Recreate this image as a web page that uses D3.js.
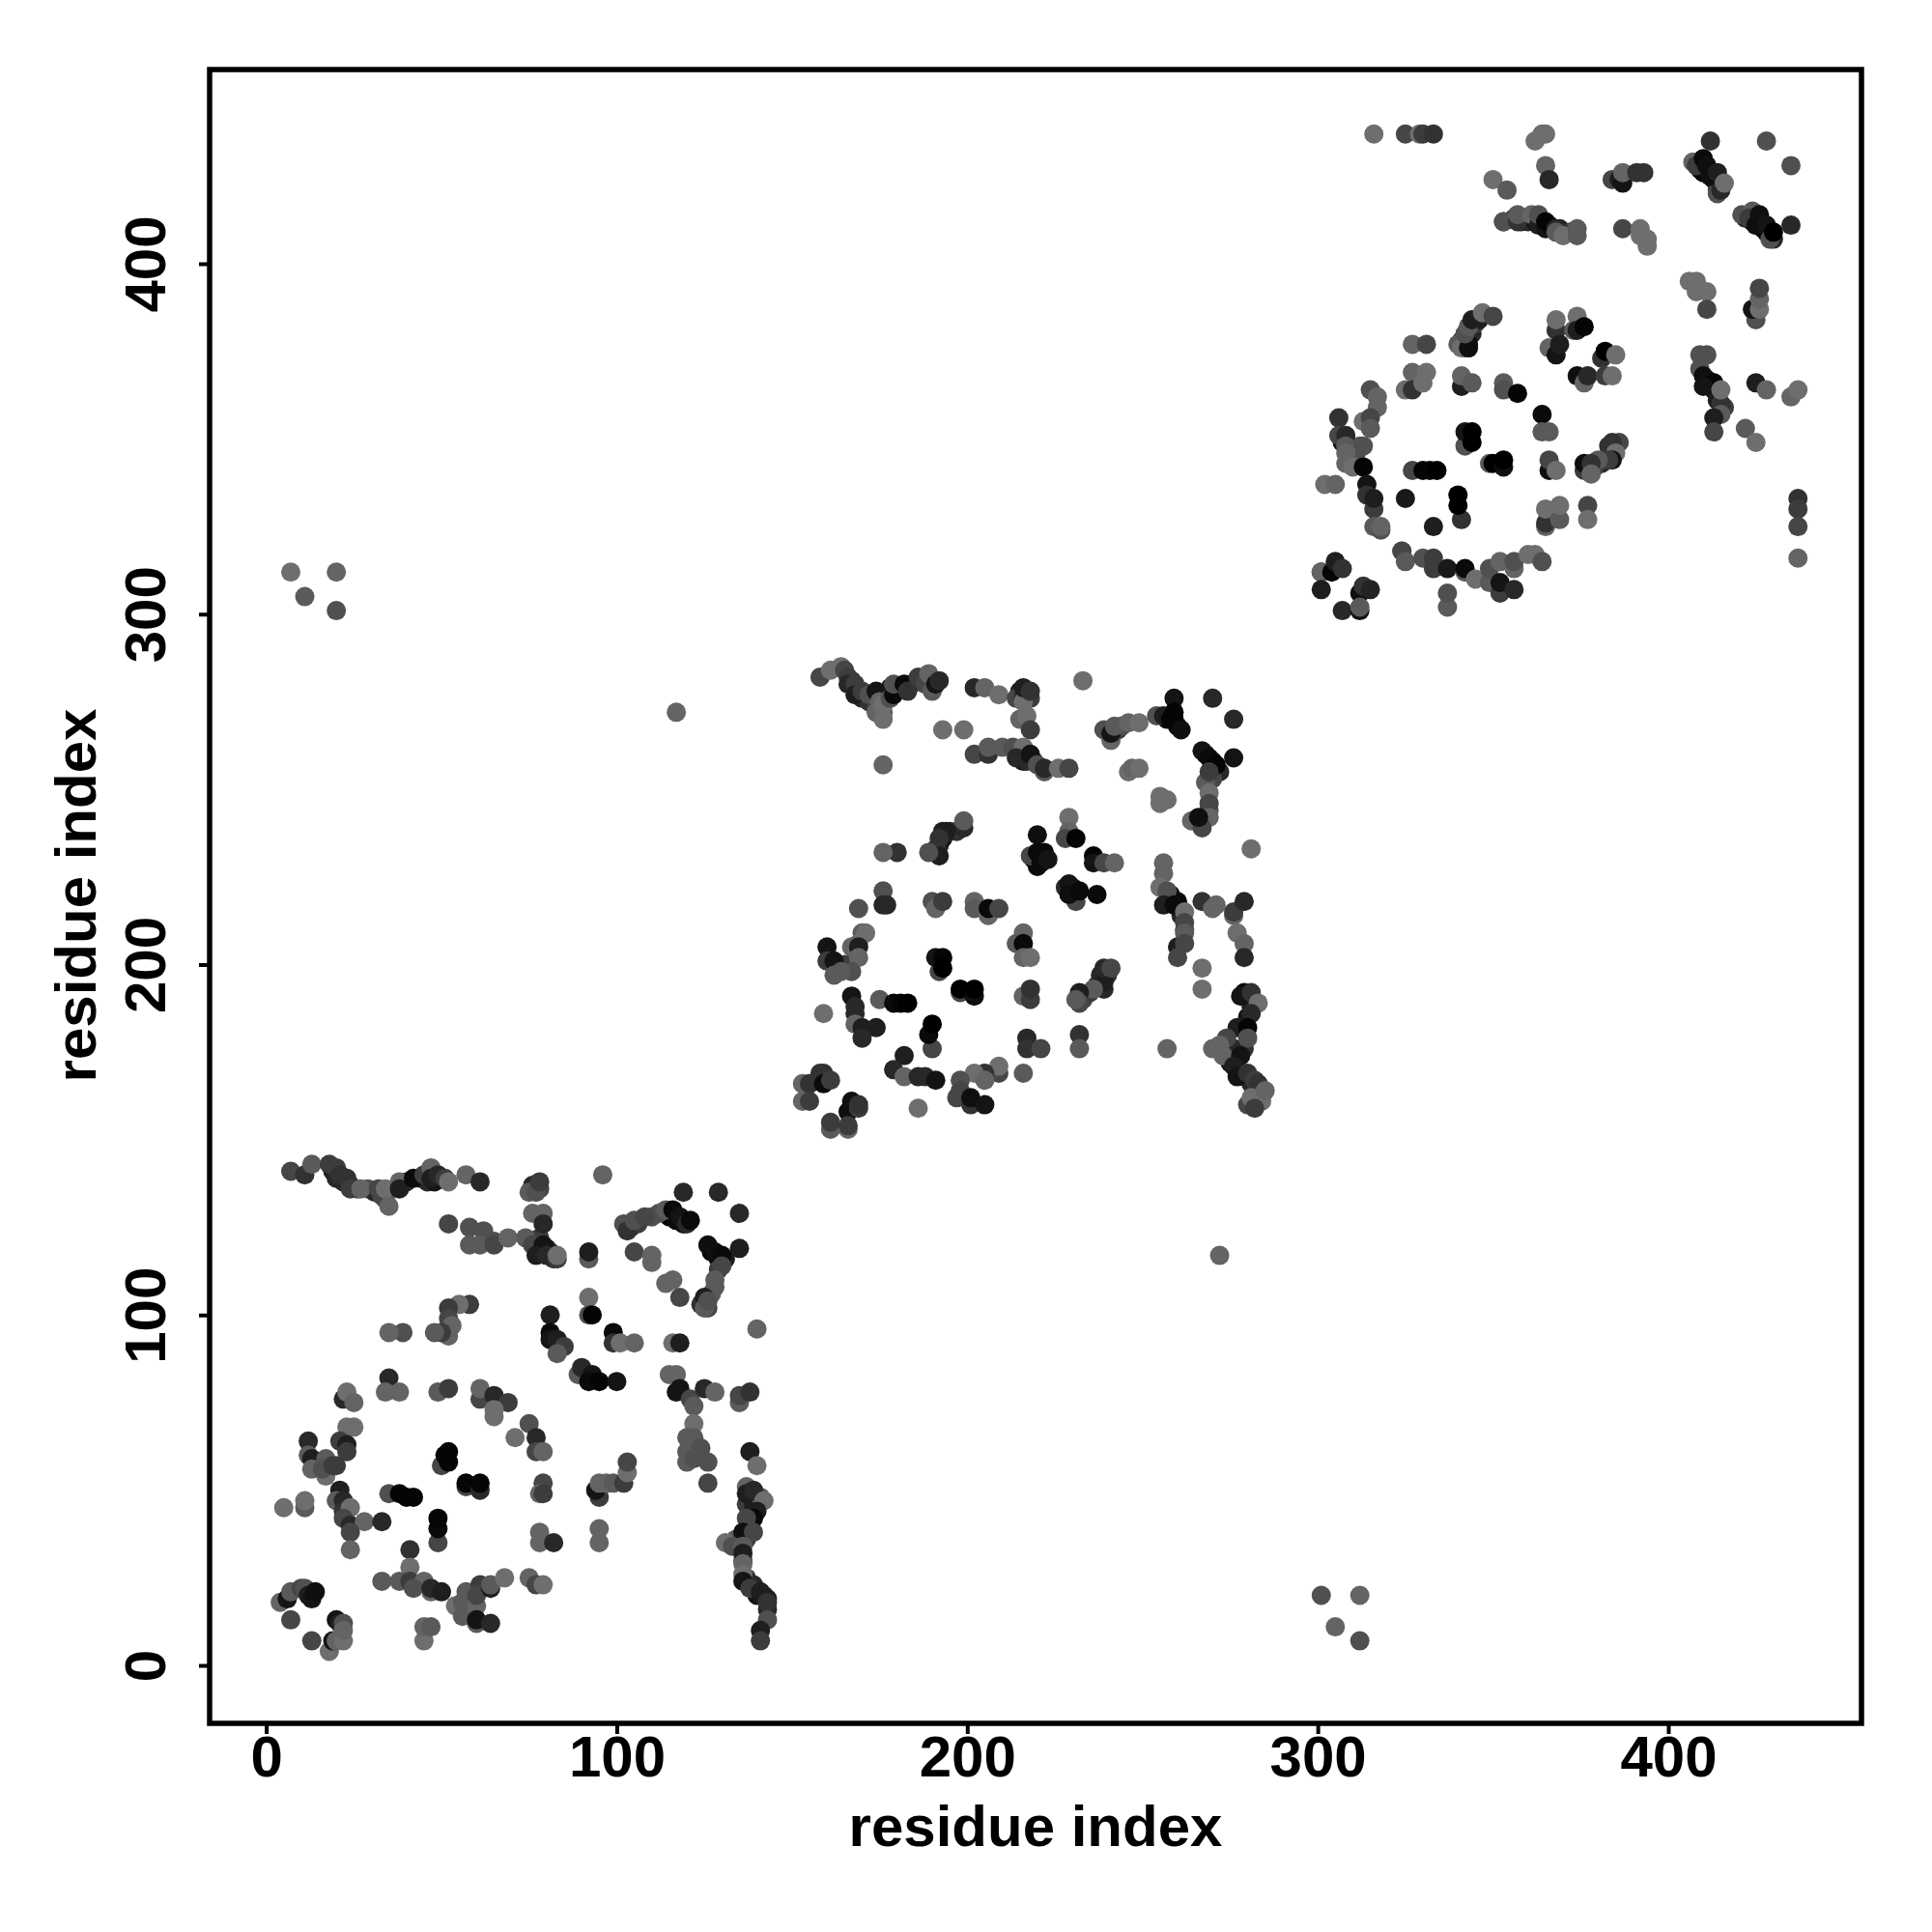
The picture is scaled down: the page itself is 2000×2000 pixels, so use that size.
<!DOCTYPE html>
<html><head><meta charset="utf-8">
<script src="https://cdn.jsdelivr.net/npm/d3@7"></script>
<style>html,body{margin:0;padding:0;background:#fff}svg{display:block}text{font-family:"Liberation Sans",Arial,sans-serif;font-weight:bold;fill:#000}</style>
</head><body><div id="c"></div>
<script>
// each row: residue i, residue j, grey level
const xTicks=[0,100,200,300,400];
const yTicks=[0,100,200,300,400];
const xTitle="residue index", yTitle="residue index";
const outliers=[[7,312,110],[20,312,100],[11,305,90],[20,301,80],[117,272,100],[272,117,100],[301,20,80],[312,20,100],[305,11,100],[312,7,80]];
const block1=[[137,46,60],[139,46,30],[141,48,90],[138,40,40],[137,36,60],[134,36,90],[136,30,70],[137,25,50],[139,23,40],[140,20,20],[142,20,40],[143,16,40],[19,141,30],[20,139,40],[22,138,40],[24,137,30],[26,136,60],[29,136,80],[31,135,40],[34,133,80],[40,138,40],[44,139,20],[46,138,40],[48,138,20],[78,136,70],[76,137,40],[115,128,5],[117,127,10],[119,126,15],[127,118,5],[129,116,10],[131,116,30],[129,113,60],[128,108,90],[126,102,70],[124,103,50],[80,119,20],[81,118,30],[82,116,50],[78,122,60],[104,125,50],[106,126,60],[110,128,80],[112,129,80],
[7,141,70],[11,140,50],[13,143,90],[18,143,60],[20,142,60],[21,140,50],[23,139,50],[24,136,60],[27,136,100],[32,136,70],[33,134,70],[34,136,110],[35,131,100],[38,138,100],[38,136,30],[42,139,10],[45,140,60],[47,142,100],[47,139,30],[49,140,40],[51,139,60],[52,138,110],[57,140,100],[61,138,40],
[75,135,90],[77,135,80],[78,138,60],[76,129,100],[79,129,100],[79,126,40],[52,126,70],[58,125,80],[62,124,80],[58,120,90],[61,120,90],[65,121,80],[65,120,70],[69,122,100],[74,122,90],[76,120,70],[79,120,20],[77,117,30],[80,117,40],[83,116,60],[83,117,110],[92,116,90],[92,118,30],[96,140,100],[119,135,40],[129,135,40],[135,129,40],
[102,126,80],[103,124,50],[105,127,80],[108,128,70],[114,130,90],[116,130,10],[118,128,20],[120,126,40],[121,127,10],[105,118,70],[110,117,100],[110,115,100],[116,110,100],[114,109,100],[118,105,70],[126,120,15],[128,118,15],[130,117,10],[135,119,30],[130,114,70],[128,110,90],[127,106,90],[125,105,30],[125,102,90],[126,104,80],[140,96,100],
[58,103,60],[55,103,110],[52,102,60],[52,99,70],[53,97,100],[52,94,100],[50,95,60],[48,95,90],[39,95,80],[35,95,100],[81,100,30],[81,95,10],[81,93,20],[83,93,30],[85,91,60],[83,89,90],[92,105,110],[92,100,80],[93,100,5],[99,95,10],[99,92,50],[101,92,110],[105,92,100],[116,92,110],[118,92,30],[89,83,90],[90,85,40],[93,83,20],[92,81,10],[95,81,5],[100,81,20],
[115,83,100],[117,83,100],[118,79,20],[117,78,20],[121,76,70],[122,74,90],[122,69,110],[120,65,90],[122,65,90],[120,61,90],[124,62,80],[120,58,90],[126,58,80],[122,59,80],[126,52,70],[125,79,40],[128,78,100],[135,75,90],[135,77,70],[138,78,50],[138,61,30],[140,57,110],
[137,51,100],[137,49,30],[139,50,40],[142,47,110],[140,44,30],[139,42,10],[137,42,70],[136,38,15],[139,38,70],[131,35,110],[133,34,80],[136,34,90],[136,32,30],[136,29,100],[136,26,110],[136,24,20],[138,22,60],[141,21,30],[143,19,30],[143,18,50],[143,13,80],[141,10,30],[141,7,60],
[22,76,40],[23,78,110],[25,75,100],[35,82,40],[34,78,100],[38,78,100],[49,78,90],[52,79,60],[61,76,70],[61,79,100],[65,77,40],[69,75,60],[65,73,110],[65,71,110],[75,69,80],[71,65,110],[77,65,40],[77,61,70],[79,61,100],[25,68,110],[23,68,110],[21,64,60],[23,63,30],[23,61,60],[12,64,40],[12,60,90],[13,59,30],[17,59,90],[13,56,100],[17,54,110],[16,56,80],[20,57,60],[19,57,60],
[50,57,70],[51,60,10],[52,61,5],[52,58,5],[35,49,80],[38,49,5],[40,48,5],[42,48,5],[57,51,70],[57,52,5],[61,50,40],[61,52,5],[79,52,70],[78,49,100],[79,49,60],[95,48,60],[94,50,20],[95,52,100],[97,52,100],[99,52,90],[102,52,60],[103,55,110],[103,58,70],[78,38,100],[78,35,100],[82,35,40],[95,39,100],[95,35,100],[5,45,110],[11,45,90],[11,47,110],
[21,50,30],[20,47,90],[22,47,40],[22,44,50],[24,45,110],[22,42,70],[24,40,40],[28,41,100],[24,38,70],[24,33,100],[33,41,40],[49,35,70],[49,39,10],[49,42,5],[41,33,50],[41,28,110],[33,24,90],[38,24,90],[41,24,60],[45,24,100],[42,22,80],[47,21,100],[47,22,40],[50,21,30],[45,7,110],[45,11,100],[47,11,90],
[54,17,110],[57,21,90],[56,18,90],[56,14,90],[60,17,100],[60,12,90],[60,13,20],[61,23,60],[60,20,70],[64,22,30],[64,23,90],[68,25,110],[64,12,40],[75,25,100],[77,23,70],[79,23,110],[4,18,100],[6,19,20],[7,21,90],[10,22,70],[11,22,80],[12,20,30],[13,19,20],[14,21,15],[7,13,70],[13,7,70],[18,4,110],[19,7,20],[20,7,100],[22,7,110],[20,13,20],[21,12,30],[22,12,80],[22,10,100]];
const block2=[[168,279,40],[167,281,30],[170,276,40],[172,275,50],[174,274,60],[176,272,90],[178,279,40],[181,279,20],[184,280,30],[187,281,60],[216,277,40],[218,276,60],[215,278,30],[215,260,30],[216,258,20],[219,258,40],[243,267,60],[244,268,80],[257,270,10],[259,270,20],[260,268,10],[268,260,10],[270,258,10],[272,255,40],[270,253,70],[267,240,30],[269,244,90],[268,252,90],[258,220,20],[258,218,30],[260,218,10],[261,214,40],[262,210,60],[279,192,10],[281,188,30],[280,185,20],[279,176,50],[276,176,40],[275,172,20],[277,170,20],[279,168,30],[281,166,40],[283,164,30],[282,163,60],[280,160,70],[192,234,40],[193,236,20],[195,238,40],[197,238,50],[191,233,60],[230,222,20],[230,220,5],[222,232,10],[219,230,5],[220,228,10],[166,200,30],[168,204,70],[165,200,60],[233,190,70],[235,192,60],[237,194,40],[238,197,40],[240,197,50],
[158,282,70],[161,284,110],[164,285,110],[165,284,70],[166,282,60],[166,280,40],[168,280,60],[168,277,30],[170,278,60],[172,277,80],[174,278,20],[174,272,100],[175,275,100],[176,274,110],[176,270,110],[178,276,80],[179,277,10],[179,280,80],[182,280,10],[183,278,50],[186,282,60],[188,280,70],[189,283,100],[190,278,90],[191,280,20],[192,281,40],
[202,279,40],[205,279,100],[209,277,110],[214,276,70],[216,276,40],[216,275,110],[216,279,30],[218,278,50],[215,270,100],[217,271,110],[218,267,60],[233,281,110],[193,267,110],[199,267,110],[176,257,100],
[202,260,70],[206,260,50],[206,262,90],[210,262,90],[213,262,80],[216,262,110],[214,259,40],[217,258,40],[218,260,20],[220,257,80],[222,255,90],[222,256,40],[226,256,110],[229,256,70],
[239,267,80],[241,264,100],[241,266,20],[242,268,90],[246,269,100],[249,269,110],[254,271,80],[256,271,30],[259,276,20],[259,272,5],[258,270,5],[261,267,15],[270,276,40],[276,270,40],[267,261,20],[269,259,10],[271,257,5],[269,255,60],[276,259,20],[269,249,110],[269,246,70],[269,242,100],[264,241,100],[267,239,70],[266,242,15],
[246,255,110],[247,256,100],[249,256,110],[255,248,110],[255,246,110],[257,247,110],[281,233,110],
[199,239,40],[199,241,90],[194,238,30],[193,238,30],[192,236,50],[192,231,30],[189,232,80],[180,232,50],[176,232,100],[220,237,15],[218,231,70],[220,232,10],[221,229,10],[223,230,20],[229,242,110],[229,238,100],[228,236,70],[231,236,5],[236,231,5],[236,229,20],[239,229,70],[242,229,100],[228,222,40],[229,223,20],[231,218,70],[229,220,15],[232,221,10],[237,220,10],
[256,229,100],[256,226,100],[255,222,110],[257,221,80],[256,217,30],[259,217,10],[260,205,30],[260,202,70],[262,215,110],[262,212,70],[262,209,90],[262,206,70],[267,199,110],[267,193,110],[267,218,50],[270,216,100],[271,217,100],[276,214,100],[276,215,60],[279,218,40],[277,209,110],[279,206,100],[279,202,40],
[176,221,80],[176,217,40],[177,217,40],[169,216,80],[190,218,80],[191,216,100],[193,218,60],[202,218,100],[202,216,90],[206,214,100],[206,216,10],[209,216,70],[216,209,100],[214,206,90],[216,206,10],[216,202,100],[218,202,110],
[170,209,90],[171,209,110],[169,206,110],[167,205,100],[169,205,30],[169,202,100],[160,205,20],[160,201,60],[162,201,20],[162,197,90],[167,198,80],[164,198,90],[192,198,70],[191,202,20],[193,202,5],[193,199,0],[175,190,90],[179,189,10],[181,189,5],[183,189,0],[198,192,70],[198,193,0],[202,191,15],[202,193,0],[216,191,100],[218,190,60],[218,193,50],
[239,193,40],[239,195,30],[239,199,40],[241,199,70],[236,193,90],[232,192,30],[232,189,70],[231,190,90],[159,186,110],[167,191,20],[168,188,40],[168,186,40],[168,183,100],[170,182,30],[174,182,30],[170,179,40],[190,176,70],[189,180,10],[190,183,0],[217,179,40],[217,176,50],[221,176,70],[232,180,50],[232,176,90],[257,176,100],
[182,174,30],[179,170,40],[182,168,100],[186,168,40],[188,168,40],[191,167,20],[186,159,110],[216,169,90],[209,169,70],[209,171,110],[205,169,50],[202,169,110],[205,167,100],[198,167,80],[198,164,70],[197,162,70],[201,160,50],[201,162,15],[205,160,20],[153,166,100],[155,166,50],[158,169,50],[159,169,50],[159,166,10],[161,167,60],[153,161,100],[155,161,60],[167,161,15],[166,158,15],[169,159,60],[169,160,50],[161,153,90],[161,155,60],[166,153,100],[166,154,60],
[278,191,20],[281,192,50],[283,189,110],[281,186,40],[277,182,30],[280,182,5],[280,179,80],[274,179,70],[270,176,100],[272,177,100],[273,174,100],[278,174,20],[276,171,30],[277,168,20],[280,169,50],[282,167,60],[283,166,50],[284,161,110],[281,162,110],[282,159,60],[285,164,100]];
const block3=[[343,382,30],[344,380,40],[345,383,60],[346,384,30],[341,378,30],[342,376,20],[343,377,10],[356,413,60],[358,412,40],[360,412,40],[362,412,20],[364,411,10],[366,411,15],[367,410,10],[369,410,30],[372,409,60],[409,427,20],[410,426,10],[412,425,10],[413,426,10],[413,424,20],[415,422,30],[414,421,50],[422,413,40],[424,412,15],[425,411,10],[427,410,10],[428,409,5],[429,408,10],[430,407,40],[411,367,10],[412,365,10],[413,364,20],[414,361,30],[415,360,50],[416,359,60],[307,349,20],[309,348,40],[312,348,90],[310,344,90],[311,346,80],[382,344,60],[381,343,40],[379,342,60],[383,348,50],
[316,437,110],[325,437,70],[329,437,110],[330,437,60],[333,437,50],[362,435,110],[364,437,110],[365,437,110],[365,428,100],[366,424,40],[350,424,110],[354,421,90],
[353,412,40],[353,412,80],[357,412,50],[357,414,90],[361,414,100],[363,411,30],[363,414,80],[365,410,20],[365,412,5],[368,410,40],[368,409,90],[370,408,110],[374,410,90],[374,408,90],[387,410,70],[392,410,110],[392,408,110],[394,407,110],[394,405,110],
[384,424,70],[386,424,30],[387,423,20],[387,426,100],[391,426,50],[393,426,50],[412,435,50],[428,435,80],[435,428,80],[407,429,100],[408,428,60],[410,430,10],[411,428,15],[412,425,15],[414,426,30],[414,420,80],[415,421,40],[416,423,110],
[421,414,80],[424,415,90],[423,413,60],[426,414,15],[425,411,15],[428,411,20],[429,407,80],[430,409,0],[435,411,40],[406,395,110],[408,395,110],[408,392,110],[411,392,110],[411,387,70],[425,384,80],[424,387,20],[426,387,110],[426,390,100],[426,393,70],
[409,374,80],[411,374,80],[409,370,80],[410,368,15],[413,366,5],[410,365,20],[415,360,50],[415,357,90],[415,364,110],[413,356,30],[413,352,70],[425,366,30],[428,364,100],[435,362,100],[437,364,110],[422,353,90],[425,349,110],[437,333,50],[437,330,60],[437,325,70],[437,316,100],
[340,377,90],[341,376,110],[343,376,15],[342,380,80],[343,382,90],[344,384,30],[347,386,110],[350,385,70],[327,377,100],[331,377,70],[368,381,50],[368,384,110],[374,385,110],[373,381,90],[374,381,30],[376,382,5],[366,376,100],[368,374,20],[369,377,30],[381,373,50],[382,375,0],[385,374,110],[374,368,15],[376,366,100],[377,368,40],[382,368,60],[384,368,110],
[327,369,100],[331,369,110],[325,364,110],[327,364,50],[330,366,110],[341,365,30],[341,368,100],[344,366,90],[353,366,90],[353,364,80],[357,363,5],[364,357,10],[364,352,90],[366,352,90],
[315,364,80],[317,362,100],[317,359,100],[313,355,110],[315,356,70],[315,353,90],[306,356,50],[306,351,70],[308,351,40],[308,348,90],[313,348,80],[308,346,100],[308,343,100],[310,342,110],[313,342,5],[342,348,80],[342,352,20],[344,352,0],[344,349,0],[327,341,70],[330,341,5],[332,341,5],[334,341,0],[349,343,90],[350,343,0],[353,342,15],[353,344,0],[366,341,15],[366,344,70],[368,341,110],
[386,349,70],[384,349,50],[385,346,110],[384,344,20],[383,344,60],[380,344,90],[376,341,60],[376,343,15],[378,343,50],[378,340,100],[302,337,110],[305,337,100],[314,337,20],[314,334,50],[316,330,60],[316,333,30],[316,325,90],[318,324,80],[318,325,100],[325,333,25],[333,325,30],[341,327,50],[340,331,0],[340,334,0],
[365,325,100],[365,326,50],[365,330,110],[369,327,90],[369,331,110],[377,331,70],[377,327,110],[324,318,100],[324,318,70],[325,315,90],[330,316,80],[333,313,60],[333,316,60],[337,313,25],[342,312,90],[342,313,10],[345,310,110],[349,309,90],[349,313,80],[352,306,60],[352,309,20],[356,307,40],[352,315,100],[356,313,100],[356,315,80],[360,317,110],[362,317,110],[364,315,80],[337,302,90],[337,306,80],
[301,312,5],[301,312,100],[304,312,5],[305,315,30],[307,313,50],[301,307,30],[307,301,40],[312,306,15],[312,301,15],[312,302,90],[313,308,50],[315,307,35]];

const x=d3.scaleLinear().domain([0,400]).range([275.6,1727]);
const y=d3.scaleLinear().domain([0,400]).range([1724,273]);
const grey=d3.scaleLinear().domain([0,120]).range(["#000","#787878"]);
const svg=d3.select("#c").append("svg").attr("width",2000).attr("height",2000);
const pts=[...outliers,...block1,...block2,...block3];
svg.append("g").selectAll("circle").data(pts).join("circle")
  .attr("cx",d=>x(d[0])).attr("cy",d=>y(d[1])).attr("r",10).attr("fill",d=>grey(d[2]));
svg.append("rect").attr("x",217).attr("y",72).attr("width",1710).attr("height",1712)
  .attr("fill","none").attr("stroke","#000").attr("stroke-width",5.5);
const ax=svg.append("g").attr("transform","translate(0,1784)").call(d3.axisBottom(x).tickValues(xTicks).tickSize(11).tickPadding(10));
const ay=svg.append("g").attr("transform","translate(217,0)").call(d3.axisLeft(y).tickValues(yTicks).tickSize(11).tickPadding(10));
[ax,ay].forEach(g=>{g.select(".domain").remove();g.selectAll("line").attr("stroke","#000").attr("stroke-width",4);g.selectAll("text").style("font-size","60px").style("font-family",'"Liberation Sans"').style("font-weight","bold").attr("fill","#000");});
ax.selectAll("text").attr("dy",null).attr("text-anchor","middle").attr("y",55);
ay.selectAll("text").attr("x",null).attr("dy",null).attr("text-anchor","middle").attr("transform","translate(-46,0) rotate(-90)");
svg.append("text").attr("x",1072).attr("y",1911).attr("text-anchor","middle").style("font-size","60px").text(xTitle);
svg.append("text").attr("transform","translate(99,927) rotate(-90)").attr("text-anchor","middle").style("font-size","60px").text(yTitle);
</script></body></html>
